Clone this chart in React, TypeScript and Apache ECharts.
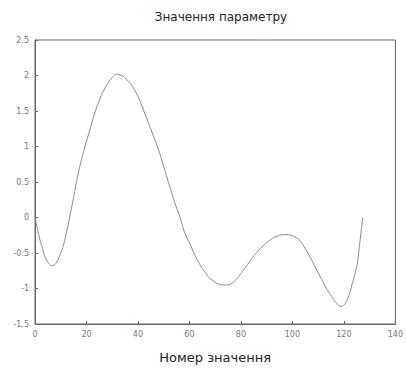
import React, { useEffect, useRef } from "react";
import * as echarts from "echarts";

const title = "Значення параметру";
const xName = "Номер значення";
const xValues = [0, 1, 1.9, 3, 3.9, 5.2, 6.5, 7.8, 9, 10, 11, 12, 13, 14, 14.8, 16, 17.4, 19, 20.7, 22.3, 23.9, 25.8, 27.8, 29.7, 31.6, 34.2, 36.8, 38.8, 40.7, 42.6, 44.6, 46.5, 48.4, 50.3, 52.3, 54.2, 56.2, 58, 60, 62, 64, 66, 67.8, 70.3, 72.9, 74.8, 76.8, 78.7, 80.6, 82.6, 84.6, 87.2, 89.8, 92.4, 95, 97.5, 99.5, 101.4, 102.8, 104, 106, 107.9, 109.9, 111.8, 113.4, 115, 116.4, 117.6, 118.5, 119.3, 120.4, 121.4, 122.4, 123.4, 124.4, 125.3, 126.2, 126.8, 127.3];
const yValues = [0, -0.17, -0.31, -0.45, -0.56, -0.64, -0.68, -0.66, -0.59, -0.5, -0.4, -0.25, -0.08, 0.1, 0.25, 0.48, 0.72, 0.95, 1.16, 1.36, 1.55, 1.72, 1.86, 1.96, 2.02, 1.99, 1.9, 1.79, 1.65, 1.47, 1.28, 1.1, 0.91, 0.68, 0.44, 0.22, 0.02, -0.2, -0.36, -0.52, -0.66, -0.77, -0.85, -0.92, -0.95, -0.95, -0.92, -0.85, -0.76, -0.66, -0.56, -0.45, -0.36, -0.29, -0.25, -0.24, -0.25, -0.28, -0.32, -0.38, -0.5, -0.63, -0.77, -0.9, -1.01, -1.1, -1.18, -1.22, -1.25, -1.25, -1.22, -1.15, -1.05, -0.91, -0.78, -0.63, -0.35, -0.17, 0];
const xTicks = [0, 20, 40, 60, 80, 100, 120, 140];
const yTicks = [-1.5, -1, -0.5, 0, 0.5, 1, 1.5, 2, 2.5];

export default function App() {
  const ref = useRef<HTMLDivElement>(null);
  useEffect(() => {
    const chart = echarts.init(ref.current!, null, { renderer: "svg" });
    const font = "DejaVu Sans";
    chart.setOption({
      animation: false,
      backgroundColor: "#fff",
      title: {
        text: title,
        left: 216,
        top: 6,
        textAlign: "center",
        textStyle: { fontFamily: font, fontSize: 12, fontWeight: "normal", color: "#222" },
      },
      grid: {
        left: 35,
        right: 9,
        top: 40,
        bottom: 42,
        show: true,
        borderColor: "#666",
        borderWidth: 1,
        backgroundColor: "transparent",
      },
      xAxis: {
        type: "value",
        min: xTicks[0],
        max: xTicks[xTicks.length - 1],
        interval: 20,
        name: xName,
        nameLocation: "middle",
        nameGap: 27,
        nameTextStyle: { fontFamily: font, fontSize: 13, color: "#222" },
        axisLine: { show: true, onZero: false, lineStyle: { color: "#666" } },
        axisTick: { show: true, inside: true, length: 3, lineStyle: { color: "#666" } },
        splitLine: { show: false },
        axisLabel: { fontFamily: font, fontSize: 8, color: "#777", margin: 6 },
      },
      yAxis: {
        type: "value",
        min: yTicks[0],
        max: yTicks[yTicks.length - 1],
        interval: 0.5,
        axisLine: { show: true, onZero: false, lineStyle: { color: "#666" } },
        axisTick: { show: true, inside: true, length: 3, lineStyle: { color: "#666" } },
        splitLine: { show: false },
        axisLabel: { fontFamily: font, fontSize: 8, color: "#777", margin: 6 },
      },
      series: [
        {
          type: "line",
          data: xValues.map((x, i) => [x, yValues[i]]),
          smooth: 0.2,
          showSymbol: false,
          lineStyle: { color: "#888", width: 1 },
        },
      ],
    });
    return () => chart.dispose();
  }, []);
  return <div ref={ref} style={{ width: 406, height: 369, position: "absolute", left: 0, top: 0 }} />;
}
